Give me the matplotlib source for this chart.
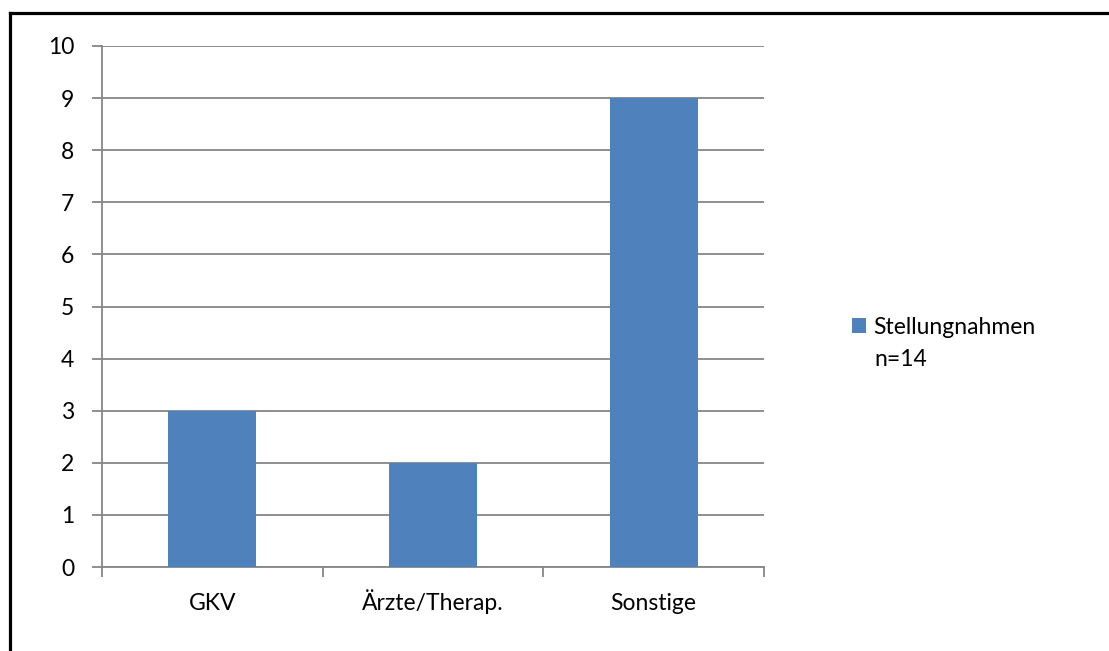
import matplotlib.pyplot as plt
from matplotlib.lines import Line2D
from matplotlib.patches import Patch

categories = ["GKV", "Ärzte/Therap.", "Sonstige"]
values = [3, 2, 9]
series_name = "Stellungnahmen"
series_note = "n=14"
yticks = list(range(0, 11))

plt.rcParams['font.family'] = ['Lato', 'DejaVu Sans']

W, H = 1109, 651
fig = plt.figure(figsize=(W / 100, H / 100), dpi=100)
ax = fig.add_axes([102 / W, 1 - 567 / H, (764 - 102) / W, (567 - 46) / H])

grid_c = '#868686'
fs = 16.5
x = list(range(len(categories)))
ax.bar(x, values, width=0.4, color='#4F81BD', zorder=3)
ax.set_xlim(-0.5, len(categories) - 0.5)
ax.set_ylim(0, 10)
ax.set_yticks(yticks)
ax.yaxis.grid(True, color=grid_c, linewidth=1.3, zorder=0)

ax.set_xticks([i - 0.5 for i in range(len(categories) + 1)], minor=False)
ax.set_xticklabels([])
ax.set_xticks(x, minor=True)
ax.set_xticklabels(categories, minor=True)
ax.tick_params(axis='x', which='major', length=7, width=1.3, color=grid_c, direction='out')
ax.tick_params(axis='x', which='minor', length=0, pad=31, labelsize=fs)
ax.tick_params(axis='y', length=7, width=1.3, color=grid_c, pad=13, labelsize=fs)
for lab in ax.get_xticklabels(minor=True):
    lab.set_verticalalignment('baseline')

for s in ['top', 'right']:
    ax.spines[s].set_visible(False)
for s in ['left', 'bottom']:
    ax.spines[s].set_color(grid_c)
    ax.spines[s].set_linewidth(1.3)

# legend: handle + first line, second line as plain text underneath
handle = Patch(facecolor='#4F81BD', edgecolor='none')
fig.legend([handle], [series_name], loc='center left',
           bbox_to_anchor=(852 / W, 1 - 327 / H), frameon=False,
           fontsize=fs, handlelength=0.62, handleheight=0.62,
           handletextpad=0.3, borderaxespad=0, borderpad=0)
fig.text(874 / W, 1 - 359 / H, series_note, fontsize=fs, va='center', ha='left')

# outer border (top and left only are visible)
fig.add_artist(Line2D([9.5 / W, 1], [1 - 13 / H, 1 - 13 / H], color='black',
                      linewidth=2.3, transform=fig.transFigure))
fig.add_artist(Line2D([9.5 / W, 9.5 / W], [0, 1 - 13 / H], color='black',
                      linewidth=2.3, transform=fig.transFigure))

fig.savefig('out.png', dpi=100)
